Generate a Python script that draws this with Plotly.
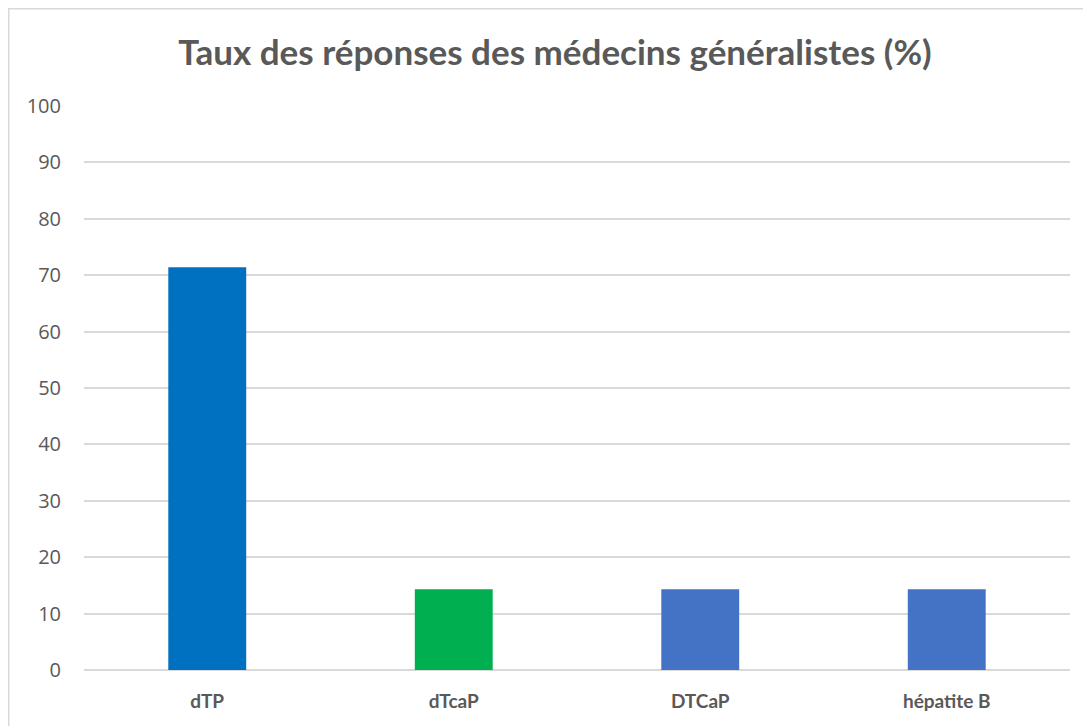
import plotly.graph_objects as go

categories = ["dTP", "dTcaP", "DTCaP", "hépatite B"]
values = [71.4, 14.3, 14.3, 14.3]
colors = ["#0070C0", "#00B050", "#4472C4", "#4472C4"]
title = "Taux des réponses des médecins généralistes (%)"

OFF = 8  # page body margin
W, H = 1091 - OFF, 726 - OFF
L, R, T, B = 84 - OFF, 21, 106 - OFF, 56
pw = W - L - R
ph = H - T - B

fig = go.Figure(go.Bar(x=categories, y=values, marker=dict(color=colors, line=dict(width=0)),
                       hoverinfo="x+y"))

def px2paper_x(px):
    return (px - OFF - L) / pw

def px2paper_y(py):
    return (H - B - (py - OFF)) / ph

fig.update_layout(
    width=W, height=H,
    margin=dict(l=L, r=R, t=T, b=B),
    paper_bgcolor="white", plot_bgcolor="white",
    bargap=0.684,
    showlegend=False,
    title=dict(text="<b>" + title + "</b>", x=(555 - OFF) / W, xanchor="center", xref="container",
               y=1 - (53 - OFF) / H, yanchor="middle",
               font=dict(family="Lato, Open Sans, sans-serif", size=35, color="#595959")),
    font=dict(family="Lato, Open Sans, sans-serif", color="#595959"),
    xaxis=dict(showgrid=False, showline=False, ticks="",
               tickfont=dict(size=19, color="#595959", family="Lato, sans-serif", weight="bold"),
               ticklabelstandoff=18),
    yaxis=dict(range=[0, 100], dtick=10, showgrid=True, gridcolor="#D9D9D9", gridwidth=1.5,
               zeroline=True, zerolinecolor="#D9D9D9", zerolinewidth=1.5,
               showline=False, ticks="",
               tickfont=dict(size=20, color="#595959", family="Open Sans, sans-serif"),
               ticklabelstandoff=22),
    shapes=[dict(type="rect", xref="paper", yref="paper",
                 x0=px2paper_x(8.75), x1=px2paper_x(1088),
                 y0=px2paper_y(740), y1=px2paper_y(8.75),
                 line=dict(color="#D9D9D9", width=1.5), layer="below")],
)

fig.write_html("out.html")
